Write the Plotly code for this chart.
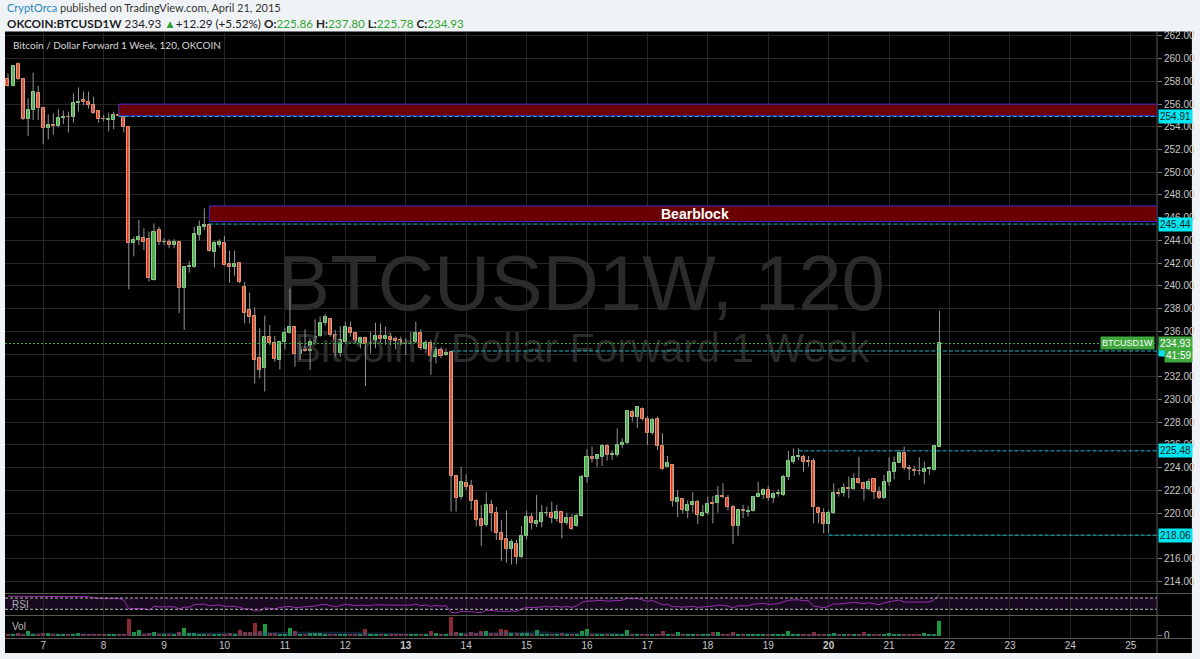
import plotly.graph_objects as go
import pandas as pd
import numpy as np

# ---------------- DATA (2-hour candles, OKCOIN BTCUSD1W) ----------------
start_time = "2015-04-06 10:00"
n_bars = 186

opens = [
    258.19, 257.60, 259.54, 258.19, 254.67, 255.49, 256.95,                                   # Apr 6
    255.63, 253.87, 254.17, 254.10, 254.81, 254.90, 254.90, 256.07, 256.37, 256.22, 255.93, 255.37,  # Apr 7
    254.70, 254.60, 254.60, 255.05, 254.98, 253.96, 243.75, 244.05, 244.20, 244.13, 240.52, 244.90,  # Apr 8
    243.84, 243.90, 243.60, 243.84, 239.79, 241.64, 241.70, 244.48, 245.16, 245.36, 243.00, 243.60,  # Apr 9
    243.80, 241.93, 241.64, 241.99, 239.93, 237.90, 237.38, 233.63, 232.75, 235.48, 235.00, 233.48,  # Apr 10
    235.09, 235.88, 236.40, 234.00, 234.56, 234.27, 235.00, 235.59, 236.76, 237.09, 235.68, 234.12,  # Apr 11
    235.10, 236.32, 235.82, 234.95, 235.39, 234.89, 235.00, 235.59, 235.30, 235.53, 235.30, 235.20,  # Apr 12
    235.00, 234.90, 235.03, 235.88, 234.45, 235.00, 233.77, 234.36, 233.92, 234.15, 223.27, 221.39,  # Apr 13
    222.68, 222.39, 221.10, 219.45, 218.96, 220.72, 219.98, 218.28, 217.69, 216.81, 217.28, 216.10,  # Apr 14
    217.99, 219.69, 219.05, 219.25, 219.98, 219.98, 219.50, 220.13, 219.10, 219.54, 218.87, 219.75,  # Apr 15
    223.21, 224.97, 224.80, 224.97, 225.91, 225.10, 225.12, 226.00, 226.14, 228.93, 228.49, 229.17,  # Apr 16
    228.26, 227.08, 228.26, 225.94, 224.10, 224.24, 221.00, 221.24, 220.19, 220.72, 220.95, 219.78,  # Apr 17
    219.98, 220.86, 220.86, 221.51, 221.36, 220.57, 218.90, 220.31, 220.13, 220.19, 221.45, 221.60,  # Apr 18
    222.04, 221.30, 221.66, 221.60, 223.21, 224.53, 224.97, 224.97, 224.60, 224.59, 220.48, 219.98,  # Apr 19
    219.02, 219.98, 221.80, 221.75, 222.18, 222.10, 223.00, 222.62, 222.10, 222.98, 221.83, 221.30,  # Apr 20
    222.77, 223.65, 224.45, 225.32, 223.94, 223.80, 223.74, 223.60, 223.86, 223.80, 225.86,          # Apr 21
]
highs = [
    258.70, 259.45, 259.65, 258.25, 256.52, 258.77, 257.60,
    255.70, 255.10, 255.20, 255.55, 255.43, 255.34, 256.95, 257.48, 257.10, 257.10, 256.66, 255.40,
    255.05, 255.25, 255.34, 255.20, 255.00, 254.00, 244.34, 245.80, 245.07, 244.78, 245.50, 245.20,
    244.20, 244.10, 244.10, 243.90, 241.70, 242.20, 245.20, 245.75, 246.83, 245.50, 243.96, 244.10,
    244.40, 243.10, 243.10, 242.10, 240.37, 239.40, 238.10, 236.27, 237.38, 236.56, 235.60, 235.20,
    236.27, 239.76, 236.41, 235.09, 236.18, 235.39, 237.06, 237.30, 237.53, 237.10, 236.12, 236.47,
    236.85, 236.85, 235.97, 235.53, 235.53, 235.97, 236.76, 236.70, 236.41, 235.82, 235.53, 235.53,
    235.39, 235.97, 236.85, 236.18, 235.24, 235.24, 234.65, 234.60, 234.50, 234.27, 223.30, 224.09,
    223.40, 222.92, 221.22, 220.72, 221.83, 221.16, 220.57, 219.40, 220.22, 217.69, 217.63, 218.87,
    220.22, 220.04, 221.60, 220.72, 220.57, 221.01, 220.72, 220.13, 220.04, 219.92, 219.98, 223.36,
    225.62, 225.85, 225.12, 226.08, 226.08, 225.50, 227.46, 226.58, 229.08, 229.08, 229.37, 229.31,
    228.55, 228.40, 228.49, 227.03, 225.03, 224.24, 222.04, 221.30, 221.10, 221.83, 221.16, 220.72,
    221.45, 221.51, 222.39, 222.62, 221.60, 220.72, 220.28, 220.72, 220.63, 221.51, 222.77, 222.18,
    222.39, 221.89, 222.10, 223.36, 225.47, 225.70, 225.70, 225.12, 225.03, 224.82, 220.57, 220.42,
    220.28, 222.62, 222.18, 222.62, 223.21, 223.50, 224.97, 222.77, 223.06, 223.06, 222.33, 223.36,
    224.91, 224.97, 225.56, 225.85, 224.24, 224.15, 224.91, 224.53, 224.09, 226.00, 237.80,
]
lows = [
    257.54, 257.54, 258.13, 254.60, 253.20, 254.60, 254.60,
    252.47, 252.90, 253.30, 253.96, 254.25, 253.50, 254.37, 255.34, 255.90, 255.60, 255.14, 254.37,
    254.46, 253.60, 253.80, 254.90, 253.50, 239.70, 242.60, 243.60, 243.16, 240.38, 240.46, 243.60,
    243.60, 243.30, 243.30, 237.59, 236.12, 241.17, 241.60, 244.00, 244.92, 243.00, 241.64, 243.40,
    241.78, 240.28, 240.90, 240.23, 236.70, 236.70, 231.40, 231.87, 230.70, 234.80, 233.30, 232.66,
    234.40, 235.80, 232.90, 233.48, 234.21, 232.60, 234.95, 235.50, 236.50, 235.53, 233.77, 233.77,
    235.00, 235.53, 234.95, 234.50, 231.20, 234.06, 234.50, 234.95, 234.80, 234.80, 234.42, 234.80,
    233.92, 234.86, 234.95, 234.36, 234.06, 232.16, 233.18, 233.63, 233.83, 220.13, 220.13, 221.20,
    222.04, 220.28, 218.81, 217.11, 218.81, 218.37, 217.63, 215.80, 215.64, 215.49, 215.52, 216.02,
    217.69, 218.57, 218.75, 218.75, 219.69, 219.10, 219.25, 217.78, 218.96, 218.52, 218.81, 219.69,
    222.68, 224.45, 224.03, 224.15, 224.62, 224.68, 224.97, 225.70, 226.08, 228.05, 227.47, 228.14,
    226.00, 226.90, 225.56, 223.80, 224.03, 220.57, 219.63, 219.98, 219.54, 220.04, 219.04, 219.69,
    219.84, 219.10, 220.04, 221.30, 220.22, 217.28, 217.99, 219.54, 219.69, 220.13, 221.39, 221.22,
    221.10, 220.92, 221.45, 221.51, 222.92, 224.33, 224.68, 223.65, 224.09, 219.10, 219.10, 218.22,
    218.22, 219.92, 221.45, 221.45, 221.30, 222.04, 222.57, 221.10, 221.98, 221.25, 221.22, 221.22,
    222.39, 222.98, 224.38, 223.80, 222.92, 223.27, 223.36, 222.57, 223.36, 223.74, 225.78,
]
closes = [
    257.60, 259.36, 258.19, 254.67, 255.49, 257.04, 255.69,
    253.87, 254.17, 254.10, 254.81, 254.90, 254.85, 256.07, 256.22, 256.20, 255.90, 255.25, 254.70,
    254.65, 254.68, 255.05, 254.95, 254.02, 243.75, 244.05, 244.26, 243.90, 240.73, 244.78, 243.84,
    243.90, 243.60, 243.84, 239.79, 241.64, 241.75, 244.57, 245.16, 245.36, 243.07, 243.80, 243.90,
    241.84, 241.64, 241.93, 240.37, 237.60, 237.30, 233.48, 232.60, 235.48, 235.00, 233.54, 235.09,
    235.88, 236.35, 234.00, 234.56, 234.27, 235.03, 235.53, 236.70, 237.30, 235.68, 234.12, 235.24,
    236.41, 235.82, 235.00, 235.39, 234.89, 235.00, 235.59, 235.30, 235.59, 235.24, 235.15, 235.00,
    234.90, 235.10, 235.88, 234.50, 235.00, 233.83, 234.36, 233.83, 234.12, 223.27, 221.36, 222.71,
    222.33, 221.10, 219.40, 218.87, 220.72, 219.98, 218.22, 217.63, 216.81, 217.49, 216.10, 217.99,
    219.69, 219.10, 219.30, 219.98, 220.04, 219.54, 220.13, 219.10, 219.54, 218.57, 219.75, 223.21,
    224.97, 224.80, 225.12, 225.91, 225.12, 225.20, 226.00, 226.20, 229.02, 228.49, 229.31, 228.26,
    227.03, 228.20, 225.94, 223.86, 224.45, 221.10, 221.30, 220.28, 220.72, 221.01, 219.84, 220.04,
    220.81, 220.78, 221.51, 221.39, 220.51, 218.90, 220.28, 220.19, 220.22, 221.45, 221.69, 222.04,
    221.30, 221.66, 221.75, 223.21, 224.59, 224.97, 225.00, 224.53, 224.53, 220.51, 219.98, 219.00,
    219.98, 221.80, 221.69, 222.18, 222.10, 222.98, 222.62, 222.10, 222.77, 221.83, 221.30, 222.77,
    223.65, 224.45, 225.32, 223.94, 223.86, 223.71, 223.68, 223.86, 223.94, 225.91, 234.93,
]
volumes = [
    2.0, 1.5, 3.0, 1.5, 4.3, 1.5, 1.2,
    3.0, 2.5, 1.5, 1.2, 1.0, 1.5, 1.2, 2.5, 1.5, 1.2, 1.0, 1.0,
    1.0, 1.0, 1.5, 1.2, 2.0, 16.7, 4.0, 6.0, 2.0, 3.0, 3.3, 1.5,
    1.5, 1.2, 1.5, 4.0, 7.3, 2.5, 2.5, 2.0, 1.5, 1.5, 1.2, 1.0,
    1.5, 2.5, 1.5, 6.0, 3.5, 3.5, 12.7, 5.0, 11.3, 3.0, 2.5, 2.0,
    2.0, 7.3, 5.0, 1.5, 1.5, 3.0, 3.0, 3.0, 1.5, 1.2, 2.0, 1.5,
    1.2, 1.0, 1.2, 1.5, 6.7, 1.5, 1.2, 1.0, 1.5, 1.2, 1.0, 1.0,
    1.5, 1.2, 2.0, 1.5, 1.5, 4.3, 2.5, 2.0, 1.5, 18.3, 3.5, 2.5,
    2.0, 3.5, 2.5, 5.0, 4.3, 2.5, 3.0, 6.7, 5.5, 3.0, 2.5, 2.5,
    2.5, 2.0, 5.3, 1.5, 1.2, 2.0, 1.5, 2.5, 1.5, 1.2, 1.5, 4.3,
    6.7, 1.5, 1.5, 1.5, 1.2, 1.0, 2.0, 1.5, 5.3, 1.5, 1.2, 1.5,
    1.0, 1.2, 1.5, 4.3, 1.5, 2.0, 3.3, 1.5, 1.2, 1.0, 1.5, 1.0,
    1.2, 3.3, 3.3, 1.5, 1.5, 3.3, 1.5, 1.2, 1.0, 1.2, 1.0, 1.0,
    1.5, 1.0, 1.2, 1.5, 4.3, 1.5, 1.2, 1.0, 1.5, 3.3, 2.0, 1.5,
    1.5, 2.5, 1.2, 1.0, 1.0, 1.2, 1.5, 3.3, 1.5, 1.2, 1.0, 1.5,
    2.3, 1.5, 1.2, 1.5, 1.0, 1.2, 1.0, 2.3, 1.0, 2.0, 14.3,
]

day_ticks = ["2015-04-%02d" % d for d in range(7, 26)]
day_labels = [str(d) if d not in (13, 20) else "<b>%d</b>" % d for d in range(7, 26)]
price_ticks = list(range(214, 263, 2))
hidden_price_ticks = (218, 234)   # covered by the level labels in the reference

# horizontal drawings: (level, start bar index)
level_lines = [(254.91, 22), (245.44, 40), (225.48, 157), (218.06, 163)]
timer_line = (234.27, 88)
zones = [(254.98, 256.00, 22), (245.66, 247.04, 40)]
last_price = 234.93

for arr in (opens, highs, lows, closes, volumes):
    assert len(arr) == n_bars, len(arr)

# ---------------- DERIVED ----------------
times = pd.date_range(start_time, periods=n_bars, freq="2h")
o = np.array(opens); h = np.array(highs); l = np.array(lows); c = np.array(closes)
up = c >= o
cs = pd.Series(closes)
delta = cs.diff()
gain = delta.clip(lower=0).ewm(alpha=1 / 14, adjust=False, min_periods=14).mean()
loss = (-delta.clip(upper=0)).ewm(alpha=1 / 14, adjust=False, min_periods=14).mean()
rsi = (100 - 100 / (1 + gain / loss)).bfill()
vol_ma = pd.Series(volumes).rolling(20, min_periods=1).mean()

X_RANGE = ["2015-04-06 08:49", "2015-04-25 10:25"]
BAR_MS = 2 * 3600 * 1000
HEAD_FONT = "Liberation Sans Narrow, Arial Narrow, Lato, sans-serif"

fig = go.Figure()

# watermark (drawn first, below candles)
fig.add_trace(go.Scatter(x=["2015-04-15 21:50"], y=[239.6], mode="text", text=["BTCUSD1W, 120"],
                         textfont=dict(family="Liberation Sans", size=78, color="#2b2b2b"),
                         xaxis="x2", yaxis="y", hoverinfo="skip", showlegend=False))
fig.add_trace(go.Scatter(x=["2015-04-15 21:50"], y=[234.2], mode="text", text=["Bitcoin / Dollar Forward 1 Week"],
                         textfont=dict(family="Liberation Sans", size=41, color="#2b2b2b"),
                         xaxis="x2", yaxis="y", hoverinfo="skip", showlegend=False))

# wicks
wx, wy = [], []
for t, hi, lo in zip(times, highs, lows):
    wx += [t, t, None]
    wy += [lo, hi, None]
fig.add_trace(go.Scatter(x=wx, y=wy, mode="lines", line=dict(color="#959595", width=1),
                         xaxis="x2", yaxis="y", hoverinfo="skip", showlegend=False))
# bodies
for mask, fill, edge in ((up, "#3cb43c", "#86df86"), (~up, "#e2341e", "#ff9462")):
    fig.add_trace(go.Bar(x=times[mask], y=np.abs(c - o)[mask], base=np.minimum(o, c)[mask],
                         width=0.6 * BAR_MS, marker=dict(color=fill, line=dict(color=edge, width=1)),
                         xaxis="x2", yaxis="y", hoverinfo="skip", showlegend=False))

# RSI
fig.add_trace(go.Scatter(x=times, y=rsi, mode="lines", line=dict(color="#9a2fb0", width=1),
                         xaxis="x3", yaxis="y2", hoverinfo="skip", showlegend=False))

# Volume
vol = np.array(volumes)
fig.add_trace(go.Bar(x=times[up], y=vol[up], width=0.8 * BAR_MS, marker=dict(color="#1d9a3c", line_width=0),
                     xaxis="x", yaxis="y3", hoverinfo="skip", showlegend=False))
fig.add_trace(go.Bar(x=times[~up], y=vol[~up], width=0.8 * BAR_MS, marker=dict(color="#8c2a34", line_width=0),
                     xaxis="x", yaxis="y3", hoverinfo="skip", showlegend=False))
fig.add_trace(go.Scatter(x=times, y=vol_ma, mode="lines", fill="tozeroy", line=dict(width=0),
                         fillcolor="rgba(40,95,150,0.35)", xaxis="x", yaxis="y3",
                         hoverinfo="skip", showlegend=False))

# ---------------- LAYOUT ----------------
PLOT_TOP, PLOT_BOT = 33, 638
H_PLOT = PLOT_BOT - PLOT_TOP
def py(px):
    return (PLOT_BOT - px) / H_PLOT
def pxx(px):
    return (px - 5) / 1155

grid = "#262626"
tickfont = dict(family="Liberation Sans", size=10, color="#c8c8c8")

xcommon = dict(type="date", range=X_RANGE, tickvals=day_ticks, ticktext=day_labels,
               showgrid=True, gridcolor=grid, gridwidth=1, zeroline=False, showline=False, ticks="")
shapes = []
# black chart canvas
shapes.append(dict(type="rect", xref="paper", yref="paper", x0=0, x1=pxx(1195), y0=py(653), y1=py(31.5),
                   fillcolor="#000000", line_width=0, layer="below"))
# RSI band
shapes.append(dict(type="rect", xref="paper", yref="y2", x0=0, x1=1, y0=30, y1=70,
                   fillcolor="#190a21", line_width=0, layer="below"))
for lv in (70, 30):
    shapes.append(dict(type="line", xref="paper", yref="y2", x0=0, x1=1, y0=lv, y1=lv,
                       line=dict(color="#b8b8b8", width=1, dash="3px,2px"), layer="above"))
# pane separators
for ypx in (593.5, 615.5, 638.5):
    shapes.append(dict(type="line", xref="paper", yref="paper", x0=0, x1=pxx(1195), y0=py(ypx), y1=py(ypx),
                       line=dict(color="#5a5a5a", width=1), layer="above"))
shapes.append(dict(type="line", xref="paper", yref="paper", x0=1, x1=1, y0=py(653), y1=py(31.5),
                   line=dict(color="#5a5a5a", width=1), layer="above"))
# zones
for y0, y1, i0 in zones:
    shapes.append(dict(type="rect", xref="x2", yref="y", x0=times[i0], x1=X_RANGE[1], y0=y0, y1=y1,
                       fillcolor="#6b0000", line=dict(color="#3b30c8", width=1), layer="above"))
# level lines
for lv, i0 in level_lines + [timer_line]:
    shapes.append(dict(type="line", xref="x2", yref="y", x0=times[i0], x1=X_RANGE[1], y0=lv, y1=lv,
                       line=dict(color="#1fb7c9", width=1, dash="4px,2px"), layer="above"))
shapes.append(dict(type="line", xref="paper", yref="y", x0=0, x1=1, y0=last_price, y1=last_price,
                   line=dict(color="#34b034", width=1, dash="2px,2px"), layer="above"))

ann = []
ann.append(dict(xref="paper", yref="paper", x=0, y=py(8), xanchor="left", yanchor="middle", showarrow=False,
                text='<span style="color:#1f87c5">CryptOrca</span> published on TradingView.com, April 21, 2015',
                font=dict(family=HEAD_FONT, size=11, color="#333333")))
g = "#31a531"
ann.append(dict(xref="paper", yref="paper", x=0, y=py(23), xanchor="left", yanchor="middle", showarrow=False,
                text=('<b>OKCOIN:BTCUSD1W</b> 234.93 <span style="color:%s">▲</span>+12.29 (+5.52%%) '
                      '<b>O:</b><span style="color:%s">225.86</span> <b>H:</b><span style="color:%s">237.80</span> '
                      '<b>L:</b><span style="color:%s">225.78</span> <b>C:</b><span style="color:%s">234.93</span>')
                     % (g, g, g, g, g),
                font=dict(family=HEAD_FONT, size=11.7, color="#222222")))
ann.append(dict(xref="paper", yref="paper", x=pxx(11), y=py(45), xanchor="left", yanchor="middle", showarrow=False,
                text="Bitcoin / Dollar Forward 1 Week, 120, OKCOIN",
                font=dict(family=HEAD_FONT, size=10, color="#d8d8d8")))
ann.append(dict(xref="paper", yref="y", x=pxx(697), y=246.35, xanchor="center", yanchor="middle", showarrow=False,
                text="<b>Bearblock</b>", font=dict(family="Liberation Sans", size=14, color="#ffffff")))
ann.append(dict(xref="paper", yref="paper", x=pxx(10), y=py(604), xanchor="left", yanchor="middle", showarrow=False,
                text="RSI", font=dict(family="Liberation Sans", size=10, color="#aaaaaa")))
ann.append(dict(xref="paper", yref="paper", x=pxx(10), y=py(626), xanchor="left", yanchor="middle", showarrow=False,
                text="Vol", font=dict(family="Liberation Sans", size=10, color="#bbbbbb")))
# right-side price labels
for lv, _ in level_lines:
    ann.append(dict(xref="paper", yref="y", x=1, y=lv, xanchor="left", yanchor="middle", showarrow=False,
                    xshift=1, text="%.2f" % lv, bgcolor="#00e5f0", borderpad=1,
                    font=dict(family="Liberation Sans", size=10, color="#222222")))
# level label of the timer line is almost fully covered by the countdown label
ann.append(dict(xref="paper", yref="y", x=1, y=timer_line[0], xanchor="left", yanchor="middle", showarrow=False,
                xshift=1, text=" ", width=30, height=10, bgcolor="#00e5f0", borderpad=0,
                font=dict(family="Liberation Sans", size=8, color="#00e5f0")))
ann.append(dict(xref="paper", yref="y", x=1, y=233.84, xanchor="left", yanchor="middle", showarrow=False,
                xshift=7, text="41:59", bgcolor="#3ea83e", borderpad=1,
                font=dict(family="Liberation Sans", size=10, color="#ffffff")))
ann.append(dict(xref="paper", yref="y", x=1, y=last_price, xanchor="left", yanchor="middle", showarrow=False,
                xshift=1, text="%.2f" % last_price, bgcolor="#3ea83e", borderpad=1,
                font=dict(family="Liberation Sans", size=10, color="#ffffff")))
ann.append(dict(xref="paper", yref="y", x=1, y=last_price, xanchor="right", yanchor="middle", showarrow=False,
                xshift=-2, text="BTCUSD1W", bgcolor="#3ea83e", borderpad=1,
                font=dict(family="Liberation Sans", size=9, color="#ffffff")))

price_text = ["" if v in hidden_price_ticks else "%.2f" % v for v in price_ticks]

fig.update_layout(
    width=1200, height=659,
    margin=dict(l=5, r=40, t=PLOT_TOP, b=659 - PLOT_BOT, pad=0),
    paper_bgcolor="#f0f3f6", plot_bgcolor="rgba(0,0,0,0)",
    barmode="overlay", bargap=0, showlegend=False,
    xaxis=dict(domain=[0, 1], anchor="y3", tickfont=tickfont, **xcommon),
    xaxis2=dict(domain=[0, 1], anchor="y", matches="x", showticklabels=False, **xcommon),
    xaxis3=dict(domain=[0, 1], anchor="y2", matches="x", showticklabels=False, **xcommon),
    yaxis=dict(domain=[py(593.5), 1], anchor="x2", side="right", range=[212.92, 262.26],
               tickvals=price_ticks, ticktext=price_text, showgrid=True, gridcolor=grid, zeroline=False,
               ticks="outside", ticklen=4, tickcolor="#777777", tickfont=tickfont, showline=False),
    yaxis2=dict(domain=[py(615), py(594.5)], anchor="x3", side="right", range=[9.8, 82.4],
                showgrid=False, zeroline=False, showticklabels=False, ticks=""),
    yaxis3=dict(domain=[0, py(616)], anchor="x", side="right", range=[-2.5, 19.5],
                tickvals=[0], ticktext=["0"], showgrid=False, zeroline=False,
                ticks="outside", ticklen=4, tickcolor="#777777", tickfont=tickfont),
    shapes=shapes, annotations=ann,
)

fig.write_html("out.html", config={"displayModeBar": False},
               post_script="document.body.style.margin='0';document.body.style.overflow='hidden';")
